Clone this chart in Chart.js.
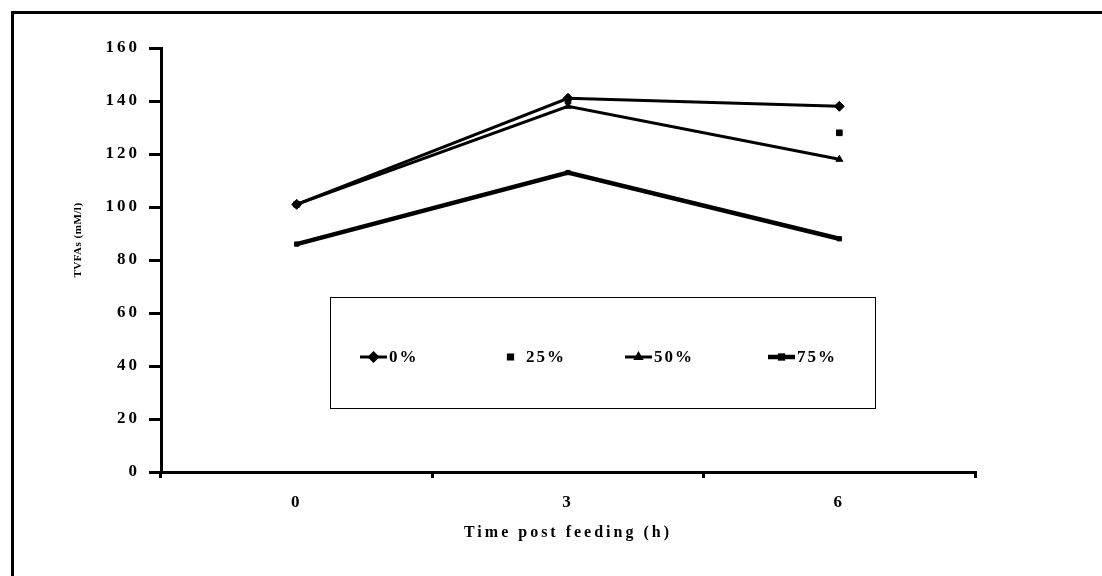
<!DOCTYPE html>
<html>
<head>
<meta charset="utf-8">
<script src="https://cdn.jsdelivr.net/npm/chart.js@4.4.1/dist/chart.umd.min.js"></script>
<style>
  html, body { margin: 0; padding: 0; background: #fff; }
  #wrap { position: relative; width: 1102px; height: 576px; overflow: hidden; }
  #frame { position: absolute; left: 11px; top: 11px; width: 1200px; height: 700px;
           border-top: 3px solid #000; border-left: 3px solid #000; }
  canvas { position: absolute; left: 0; top: 0; }
</style>
</head>
<body>
<div id="wrap">
  <div id="frame"></div>
  <canvas id="chart" width="1102" height="576"></canvas>
</div>
<script>
    const hours = ['0', '3', '6'];
    const seriesNames = ['0%', '25%', '50%', '75%'];
    const level0 = [101, 141, 138];
    const level25 = [101, 140, 128];
    const level50 = [101, 138, 118];
    const level75 = [86, 113, 88];
    const yTicks = [0, 20, 40, 60, 80, 100, 120, 140, 160];

    const serif = '"Liberation Serif", "Times New Roman", serif';

    // legend sits inside the plot, drawn from the dataset styles
    const boxLegend = {
            id: 'boxLegend',
            afterDraw: (chart) => {
                    const ctx = chart.ctx;
                    const itemX = [360, 497, 625, 768];
                    const itemY = 357;
                    ctx.save();
                    ctx.letterSpacing = '0px';
                    ctx.fillStyle = '#fff';
                    ctx.strokeStyle = '#000';
                    ctx.lineWidth = 1;
                    ctx.fillRect(330.5, 297.5, 545, 111);
                    ctx.strokeRect(330.5, 297.5, 545, 111);

                    chart.data.datasets.forEach((ds, i) => {
                            const x = itemX[i];
                            const w = 27;
                            if (ds.showLine !== false) {
                                    ctx.strokeStyle = '#000';
                                    ctx.lineWidth = ds.borderWidth;
                                    ctx.beginPath();
                                    ctx.moveTo(x, itemY);
                                    ctx.lineTo(x + w, itemY);
                                    ctx.stroke();
                            }
                            ctx.fillStyle = '#000';
                            Chart.helpers.drawPoint(ctx, {
                                    pointStyle: ds.pointStyle,
                                    radius: ds.pointRadius - 1,
                                    rotation: 0,
                                    borderWidth: 1
                            }, x + w / 2, itemY);
                            ctx.fillStyle = '#000';
                            ctx.letterSpacing = '2px';
                            ctx.font = 'bold 17px ' + serif;
                            ctx.textAlign = 'left';
                            ctx.textBaseline = 'middle';
                            ctx.fillText(ds.label, x + w + 2, itemY + 1);
                            ctx.letterSpacing = '0px';
                    });

                    // y axis title
                    ctx.translate(78, 240);
                    ctx.rotate(-Math.PI / 2);
                    ctx.letterSpacing = '0.5px';
                    ctx.font = 'bold 11px ' + serif;
                    ctx.textAlign = 'center';
                    ctx.textBaseline = 'middle';
                    ctx.fillText('TVFAs (mM/l)', 0, 0);
                    ctx.restore();
            }
    };

    const spacing = {
            id: 'spacing',
            beforeDraw: (chart) => {
                    chart.ctx.letterSpacing = '3px';
            }
    };

    const makeSet = (label, data, style, radius, width, showLine) => ({
            label,
            data,
            borderColor: '#000',
            backgroundColor: '#000',
            borderWidth: width,
            pointStyle: style,
            pointRadius: radius,
            pointBorderWidth: 1,
            pointBackgroundColor: '#000',
            pointBorderColor: '#000',
            showLine,
            tension: 0,
            fill: false
    });

    new Chart(document.getElementById('chart').getContext('2d'), {
            type: 'line',
            data: {
                    labels: hours,
                    datasets: [
                            makeSet(seriesNames[0], level0, 'rectRot', 5, 3, true),
                            makeSet(seriesNames[1], level25, 'rect', 4, 3, false),
                            makeSet(seriesNames[2], level50, 'triangle', 4, 3, true),
                            makeSet(seriesNames[3], level75, 'rect', 3, 4.5, true)
                    ]
            },
            options: {
                    responsive: false,
                    animation: false,
                    devicePixelRatio: 1,
                    layout: {padding: {left: 60, right: 127, top: 48, bottom: 0}},
                    plugins: {
                            legend: {display: false},
                            tooltip: {enabled: false}
                    },
                    scales: {
                            x: {
                                    offset: true,
                                    grid: {offset: true, drawOnChartArea: false, color: '#000', lineWidth: 3, tickLength: 6},
                                    border: {color: '#000', width: 3},
                                    ticks: {color: '#000', padding: 14, font: {family: serif, size: 17, weight: 'bold'}},
                                    title: {
                                            display: true,
                                            text: 'Time post feeding (h)',
                                            color: '#000',
                                            font: {family: serif, size: 16, weight: 'bold'},
                                            padding: {top: 0, bottom: 34}
                                    },
                                    afterFit: (scale) => { scale.height = 104; }
                            },
                            y: {
                                    min: 0,
                                    max: 160,
                                    afterBuildTicks: (scale) => { scale.ticks = yTicks.map(v => ({value: v})); },
                                    grid: {drawOnChartArea: false, color: '#000', lineWidth: 3, tickLength: 12},
                                    border: {color: '#000', width: 3},
                                    ticks: {color: '#000', padding: 9, font: {family: serif, size: 17, weight: 'bold'}},
                                    afterFit: (scale) => { scale.width = 101; }
                            }
                    }
            },
            plugins: [spacing, boxLegend]
    });
</script>
</body>
</html>
